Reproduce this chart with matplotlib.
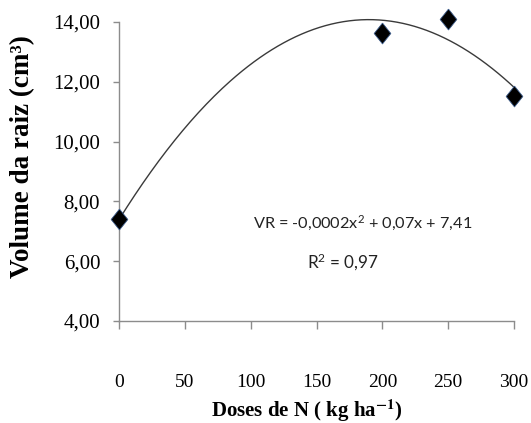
import numpy as np
import matplotlib
matplotlib.use("Agg")
import matplotlib.pyplot as plt
from matplotlib.ticker import FuncFormatter

# -----------------------------------------------------------
# Data
# -----------------------------------------------------------

doses = [0, 200, 250, 300]
volume = [7.42, 13.63, 14.09, 11.53]

x_ticks = [0, 50, 100, 150, 200, 250, 300]
y_ticks = [4, 6, 8, 10, 12, 14]

eq_text = "VR = -0,0002x$^2$ + 0,07x + 7,41"
r2_text = "R$^2$ = 0,97"

# quadratic trend line fitted to the points (as the spreadsheet did)
coef = np.polyfit(doses, volume, 2)
x_fit = np.linspace(min(doses), max(doses), 200)
y_fit = np.polyval(coef, x_fit)

# -----------------------------------------------------------
# Plot
# -----------------------------------------------------------

plt.rcParams.update({
    "mathtext.fontset": "custom",
    "mathtext.rm": "Lato",
    "mathtext.it": "Lato:italic",
    "mathtext.bf": "Lato:bold",
})

serif = ["Liberation Serif", "DejaVu Serif"]
sans = ["Lato", "DejaVu Sans"]
axis_grey = "#8c8c8c"

fig = plt.figure(figsize=(5.31, 4.23), dpi=100)
ax = fig.add_axes([119 / 531, 1 - 321 / 423, 395 / 531, 299 / 423])

ax.plot(x_fit, y_fit, color="#3a3a3a", linewidth=1.0, clip_on=False, zorder=2)

diamond = [(0, 1), (0.8, 0), (0, -1), (-0.8, 0), (0, 1)]
ax.plot(doses, volume, linestyle="none", marker=diamond, markersize=15,
        markerfacecolor="black", markeredgecolor="#3b5b8a", markeredgewidth=0.6,
        clip_on=False, zorder=3)

ax.set_xlim(0, 300)
ax.set_ylim(4, 14)
ax.set_xticks(x_ticks)
ax.set_yticks(y_ticks)
ax.yaxis.set_major_formatter(FuncFormatter(lambda v, p: f"{v:.2f}".replace(".", ",")))

for side in ["top", "right"]:
    ax.spines[side].set_visible(False)
for side in ["left", "bottom"]:
    ax.spines[side].set_color(axis_grey)
    ax.spines[side].set_linewidth(1.0)

ax.tick_params(axis="x", direction="out", length=6, width=1, color=axis_grey, pad=32)
ax.tick_params(axis="y", direction="out", length=4.5, width=1, color=axis_grey, pad=9)
for lab in ax.get_xticklabels():
    lab.set_family(serif)
    lab.set_fontsize(14)
for lab in ax.get_yticklabels():
    lab.set_family(serif)
    lab.set_fontsize(15)

ax.set_ylabel("Volume da raiz (cm³)", family=serif, fontweight="bold", fontsize=19.5)
ax.yaxis.set_label_coords(-0.212, 0.55)
ax.set_xlabel(r"Doses de N ( kg ha$^{\mathbf{-1}}$)", family=serif, fontweight="bold",
              fontsize=15, math_fontfamily="stix")
ax.xaxis.set_label_coords(0.476, -0.255)

ax.text(0.617, 0.327, eq_text, transform=ax.transAxes, ha="center", va="center",
        family=sans, fontsize=11.7, color="#222222")
ax.text(0.568, 0.197, r2_text, transform=ax.transAxes, ha="center", va="center",
        family=sans, fontsize=12.3, color="#222222")

fig.savefig("out.png", dpi=100)
